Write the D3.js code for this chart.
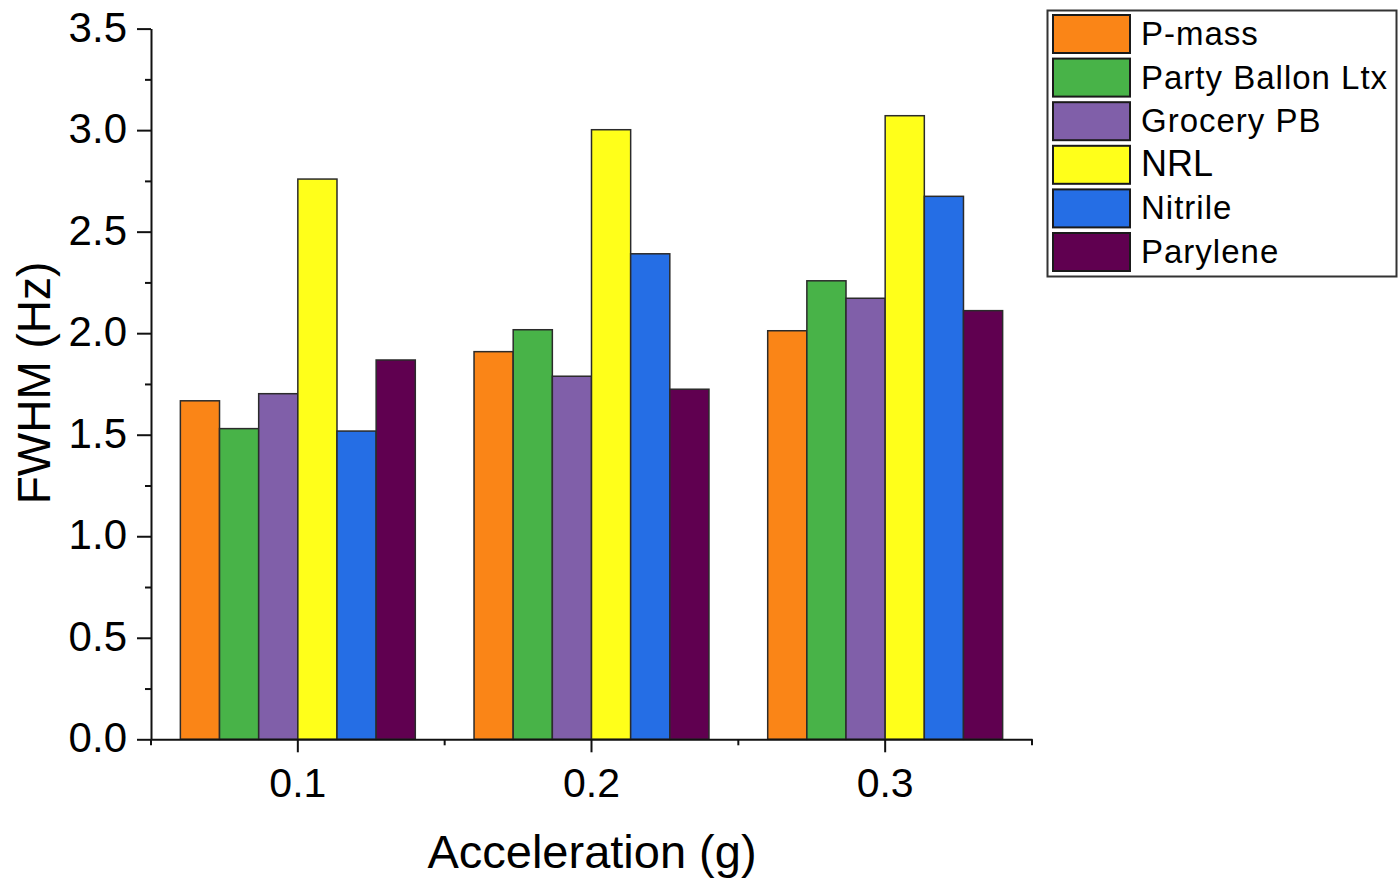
<!DOCTYPE html>
<html>
<head>
<meta charset="utf-8">
<script src="https://cdn.jsdelivr.net/npm/d3@7"></script>
<style>
  html, body { margin: 0; padding: 0; background: #ffffff; }
  svg { display: block; font-family: "Liberation Sans", Arial, sans-serif; }
</style>
</head>
<body>
<svg id="chart" width="1398" height="878"></svg>
<script>
// Acceleration groups on the x axis
const categories = ["0.1", "0.2", "0.3"];

// Membrane materials (one bar per group each)
const seriesNames = ["P-mass", "Party Ballon Ltx", "Grocery PB", "NRL", "Nitrile", "Parylene"];
const seriesColors = ["#FA8517", "#48B348", "#805FA9", "#FFFF1A", "#256EE5", "#600050"];

// FWHM (Hz) per material, in the order of categories
const pMass     = [1.667, 1.909, 2.012];
const partyBall = [1.530, 2.017, 2.258];
const groceryPB = [1.702, 1.788, 2.172];
const nrl       = [2.759, 3.002, 3.071];
const nitrile   = [1.518, 2.391, 2.674];
const parylene  = [1.868, 1.724, 2.111];
const seriesValues = [pMass, partyBall, groceryPB, nrl, nitrile, parylene];

// Axis ticks
const yMajorTicks = [0, 0.5, 1.0, 1.5, 2.0, 2.5, 3.0, 3.5];
const yMinorTicks = [0.25, 0.75, 1.25, 1.75, 2.25, 2.75, 3.25];

const svg = d3.select("#chart");

const x0 = d3.scaleBand().domain(categories).range([151, 1032]).paddingInner(0).paddingOuter(0);
const x1 = d3.scaleBand().domain(seriesNames)
  .range([x0.bandwidth() * 0.1, x0.bandwidth() * 0.9]).padding(0);
const y = d3.scaleLinear().domain([0, 3.5]).range([739.3, 28.6]);

// Bars
const rows = categories.map((c, ci) => ({
  cat: c,
  vals: seriesNames.map((s, si) => ({ name: s, value: seriesValues[si][ci], color: seriesColors[si] }))
}));

const groups = svg.append("g").selectAll("g")
  .data(rows).join("g")
  .attr("transform", d => `translate(${x0(d.cat)},0)`);

groups.selectAll("rect")
  .data(d => d.vals).join("rect")
  .attr("x", d => x1(d.name))
  .attr("y", d => y(d.value))
  .attr("width", x1.bandwidth())
  .attr("height", d => y(0) - y(d.value))
  .attr("fill", d => d.color)
  .attr("stroke", "#2b2b2b")
  .attr("stroke-width", 1.5);

// Y axis
const yAxisG = svg.append("g").attr("transform", "translate(151,0)");
yAxisG.call(d3.axisLeft(y).tickValues(yMajorTicks).tickFormat(d3.format(".1f"))
  .tickSize(14).tickSizeOuter(0).tickPadding(10));
yAxisG.append("g").call(d3.axisLeft(y).tickValues(yMinorTicks).tickFormat("")
  .tickSize(6).tickSizeOuter(0))
  .select(".domain").remove();
yAxisG.selectAll("path, line").attr("stroke", "#111").attr("stroke-width", 2);
yAxisG.selectAll("text")
  .attr("font-size", 42).attr("fill", "#000").attr("dy", "0.3em")
  .attr("font-family", "Liberation Sans, Arial, sans-serif");

// X axis
const xAxisG = svg.append("g").attr("transform", `translate(0,${y(0)})`);
xAxisG.call(d3.axisBottom(x0).tickSize(13).tickSizeOuter(0));
const xBounds = [0, 1, 2, 3].map(i => x0.range()[0] + i * x0.step());
xAxisG.selectAll(".minor").data(xBounds).join("line")
  .attr("class", "minor")
  .attr("x1", d => d).attr("x2", d => d)
  .attr("y1", 0).attr("y2", 6);
xAxisG.selectAll("path, line").attr("stroke", "#111").attr("stroke-width", 2);
xAxisG.selectAll("text")
  .attr("font-size", 41).attr("fill", "#000").attr("y", 58).attr("dy", 0)
  .attr("font-family", "Liberation Sans, Arial, sans-serif");

// Axis titles
svg.append("text")
  .attr("transform", "translate(50,383) rotate(-90)")
  .attr("text-anchor", "middle")
  .attr("font-size", 46)
  .attr("fill", "#000")
  .text("FWHM (Hz)");

svg.append("text")
  .attr("x", 592).attr("y", 868)
  .attr("text-anchor", "middle")
  .attr("font-size", 47)
  .attr("fill", "#000")
  .text("Acceleration (g)");

// Legend
const legend = svg.append("g");
legend.append("rect")
  .attr("x", 1047.5).attr("y", 10.5).attr("width", 349).attr("height", 266)
  .attr("fill", "#fff").attr("stroke", "#333").attr("stroke-width", 2);

const legRows = legend.selectAll("g.item")
  .data(seriesNames.map((s, i) => ({ name: s, color: seriesColors[i], i })))
  .join("g").attr("class", "item")
  .attr("transform", d => `translate(0,${15 + d.i * 43.6})`);

legRows.append("rect")
  .attr("x", 1053).attr("y", 0).attr("width", 77).attr("height", 38)
  .attr("fill", d => d.color).attr("stroke", "#1a1a1a").attr("stroke-width", 2);

legRows.append("text")
  .attr("x", 1141)
  .attr("y", 30)
  .attr("font-size", d => d.name === "NRL" ? 36 : 33)
  .attr("letter-spacing", d => d.name === "NRL" ? 0 : 1)
  .attr("fill", "#000")
  .text(d => d.name);
</script>
</body>
</html>
